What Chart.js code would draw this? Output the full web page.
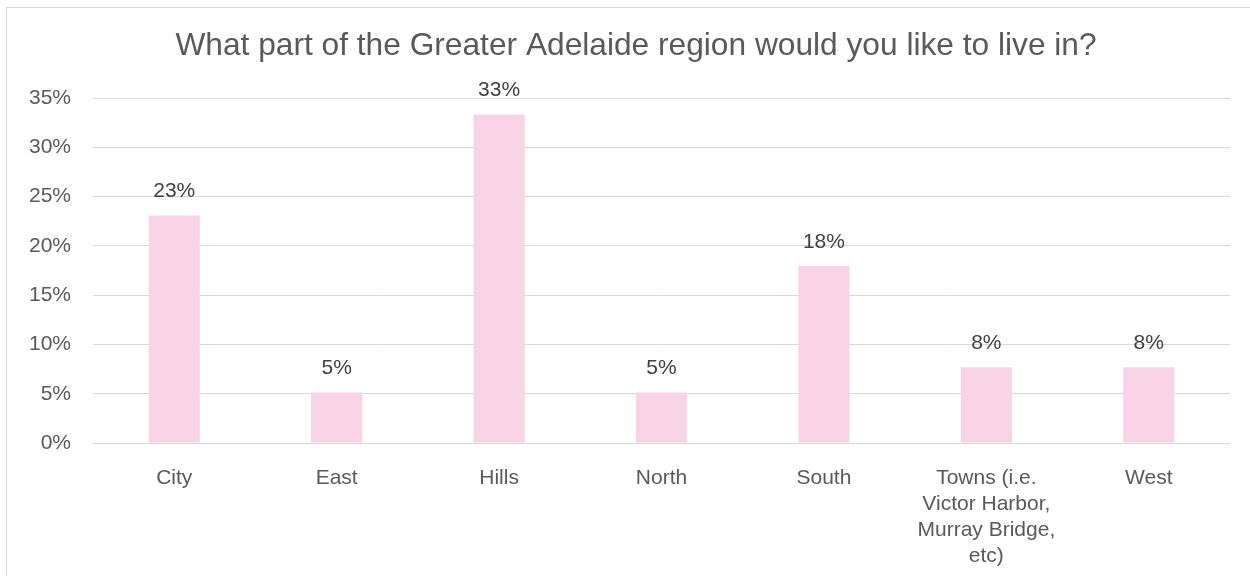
<!DOCTYPE html>
<html>
<head>
<meta charset="utf-8">
<script src="https://cdn.jsdelivr.net/npm/chart.js@4.4.1/dist/chart.umd.min.js"></script>
<style>
    html, body { margin: 0; padding: 0; background: #fff; }
    #wrap { position: relative; width: 1250px; height: 576px; overflow: hidden; }
    #frame { position: absolute; left: 6px; top: 7px; width: 1260px; height: 600px; border: 1px solid #d9d9d9; box-sizing: border-box; }
    canvas { position: absolute; left: 0; top: 0; }
</style>
</head>
<body>
<div id="wrap">
    <div id="frame"></div>
    <canvas id="chart" width="1250" height="576"></canvas>
</div>
<script>
const categories = ["City", "East", "Hills", "North", "South", ["Towns (i.e.", "Victor Harbor,", "Murray Bridge,", "etc)"], "West"];
const shares = [23.08, 5.13, 33.33, 5.13, 17.95, 7.69, 7.69];
const yTicks = [0, 5, 10, 15, 20, 25, 30, 35];

const FONT = "'Liberation Sans', Arial, sans-serif";

// Draw value labels above each bar
const barLabels = {
    id: "barLabels",
    afterDatasetsDraw(chart) {
        const ctx = chart.ctx;
        const meta = chart.getDatasetMeta(0);
        ctx.save();
        ctx.font = "21px " + FONT;
        ctx.fillStyle = "#404040";
        ctx.textAlign = "center";
        ctx.textBaseline = "middle";
        meta.data.forEach((bar, i) => {
            ctx.fillText(Math.round(shares[i]) + "%", bar.x, bar.y - 24);
        });
        ctx.restore();
    }
};

// Title sits a bit right of the plot centre in the original
const titleShift = {
    id: "titleShift",
    afterLayout(chart) {
        if (chart.titleBlock) {
            chart.titleBlock.left += 17;
            chart.titleBlock.right += 17;
        }
    }
};

const ctx = document.getElementById("chart").getContext("2d");
new Chart(ctx, {
    type: "bar",
    data: {
        labels: categories,
        datasets: [{
            data: shares,
            backgroundColor: "#f9d3e6",
            borderWidth: 0,
            barPercentage: 1,
            categoryPercentage: 0.315
        }]
    },
    options: {
        responsive: false,
        animation: false,
        layout: { padding: { top: 8, left: 8, right: 20, bottom: 0 } },
        plugins: {
            legend: { display: false },
            tooltip: { enabled: false },
            title: {
                display: true,
                text: "What part of the Greater Adelaide region would you like to live in?",
                color: "#595959",
                font: { family: FONT, size: 31.7, weight: "normal", lineHeight: 1.2 },
                padding: { top: 19, bottom: 33 }
            }
        },
        scales: {
            x: {
                grid: { display: false },
                border: { display: false },
                ticks: {
                    color: "#595959",
                    font: { family: FONT, size: 21, lineHeight: 1.24 },
                    padding: 14,
                    maxRotation: 0,
                    autoSkip: false
                },
                afterFit(scale) { scale.height = 133; }
            },
            y: {
                min: 0,
                max: 35,
                afterBuildTicks(scale) { scale.ticks = yTicks.map(v => ({ value: v })); },
                grid: { color: "#d9d9d9", lineWidth: 1, drawTicks: false },
                border: { display: false },
                ticks: {
                    color: "#595959",
                    font: { family: FONT, size: 21 },
                    padding: 22,
                    callback: v => v + "%"
                },
                afterFit(scale) { scale.width = 85; }
            }
        }
    },
    plugins: [barLabels, titleShift]
});
</script>
</body>
</html>
